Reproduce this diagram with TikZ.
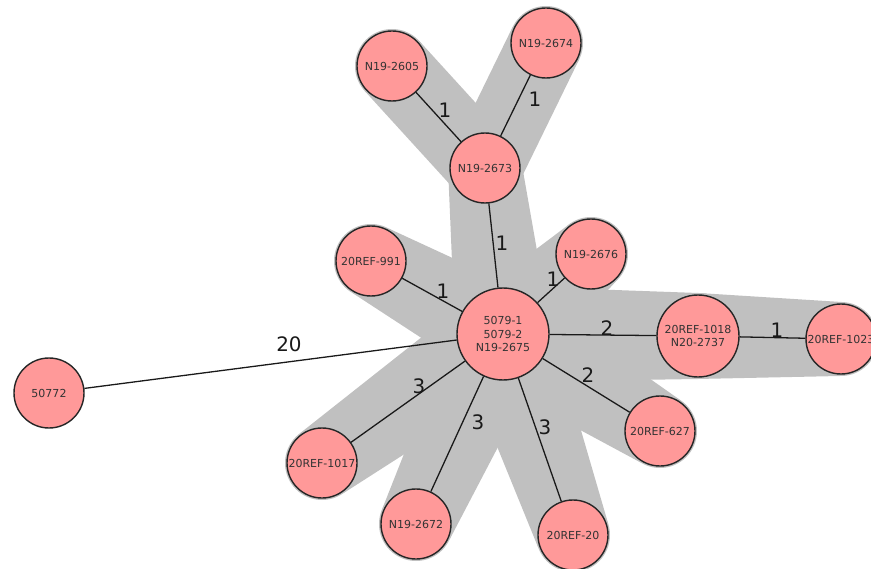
\documentclass[tikz,border=0pt]{standalone}
\usepackage{fontspec}
\setmainfont{DejaVu Sans}
\usetikzlibrary{calc, backgrounds}
\definecolor{isolate}{RGB}{255,153,153}
\definecolor{hull}{RGB}{192,192,192}

\begin{document}
\begin{tikzpicture}[x=0.03cm, y=-0.03cm,
	st/.style={circle, draw=black!85, line width=1.2pt, fill=isolate, minimum size=2.1cm, inner sep=0pt,
		font=\fontsize{9.4}{11.3}\selectfont, text=black!80, align=center},
	w_l/.style={font=\fontsize{17}{20}\selectfont, text=black!90, inner sep=0pt},
	l_e/.style={line width=1.1pt, black!90}]
	\useasboundingbox (0,0) rectangle (871,569);
	
	% isolates
	\node[st, minimum size=2.76cm] (c) at (503,334) {5079-1\\5079-2\\N19-2675};
	\node[st] (n2605) at (392,66) {N19-2605};
	\node[st] (n2674) at (546,43) {N19-2674};
	\node[st] (n2673) at (485,168) {N19-2673};
	\node[st] (r991) at (371,261) {20REF-991};
	\node[st] (n2676) at (591,254) {N19-2676};
	\node[st, minimum size=2.46cm] (r1018) at (698,336) {20REF-1018\\N20-2737};
	\node[st] (r1023) at (841,339) {20REF-1023};
	\node[st] (r627) at (660,431) {20REF-627};
	\node[st] (r1017) at (322,463) {20REF-1017};
	\node[st] (n2672) at (416,524) {N19-2672};
	\node[st] (r20) at (573,535) {20REF-20};
	\node[st] (s50772) at (49,393) {50772};
	
	% links
	\draw[l_e] (n2673) -- (n2605);
	\draw[l_e] (n2673) -- (n2674);
	\draw[l_e] (c) -- (n2673);
	\draw[l_e] (c) -- (r991);
	\draw[l_e] (c) -- (n2676);
	\draw[l_e] (c) -- (r1018);
	\draw[l_e] (r1018) -- (r1023);
	\draw[l_e] (c) -- (r627);
	\draw[l_e] (c) -- (r1017);
	\draw[l_e] (c) -- (n2672);
	\draw[l_e] (c) -- (r20);
	\draw[l_e] (c) -- (s50772);
	
	% distances
	\node[w_l] (d1) at (445,110) {1};
	\node[w_l] (d2) at (535,99) {1};
	\node[w_l] (d3) at (502,243) {1};
	\node[w_l] (d4) at (443,291) {1};
	\node[w_l] (d5) at (553,279) {1};
	\node[w_l] (d6) at (607,328) {2};
	\node[w_l] (d7) at (777,330) {1};
	\node[w_l] (d8) at (588,375) {2};
	\node[w_l] (d9) at (419,386) {3};
	\node[w_l] (d10) at (478,422) {3};
	\node[w_l] (d11) at (545,427) {3};
	\node[w_l] (d12) at (289,344) {20};
	
	% grey hull
	\begin{scope}[on background layer]
		\foreach \a/\ra/\b/\rb in {n2673/1.11cm/n2605/1.11cm, n2673/1.11cm/n2674/1.11cm, c/1.44cm/n2673/1.11cm,
			c/1.44cm/r991/1.11cm, c/1.44cm/n2676/1.11cm, c/1.44cm/r1018/1.29cm, r1018/1.29cm/r1023/1.11cm,
			c/1.44cm/r627/1.11cm, c/1.44cm/r1017/1.11cm, c/1.44cm/n2672/1.11cm, c/1.44cm/r20/1.11cm} {
			\fill[hull] (\a) circle (\ra) (\b) circle (\rb);
			\fill[hull] ($(\a)!\ra!90:(\b)$) -- ($(\b)!\rb!-90:(\a)$) -- ($(\b)!\rb!90:(\a)$) -- ($(\a)!\ra!-90:(\b)$) -- cycle;
		};
	\end{scope}
\end{tikzpicture}
\end{document}
